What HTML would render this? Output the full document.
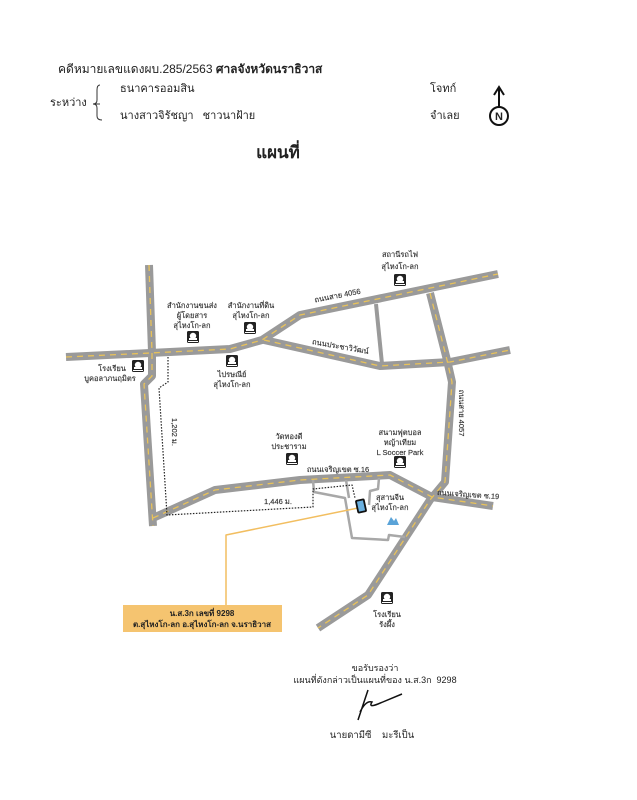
<!DOCTYPE html>
<html><head><meta charset="utf-8">
<style>
html,body{margin:0;padding:0;background:#fff;}
svg{display:block;}
text{font-family:"Liberation Sans","Noto Sans CJK SC",sans-serif;fill:#222;}
.lb{font-size:7.5px;fill:#333;text-anchor:middle;stroke:#333;stroke-width:0.15;}
</style></head><body>
<svg width="637" height="800" viewBox="0 0 637 800" xmlns="http://www.w3.org/2000/svg">
<defs>
<g id="ic"><rect x="-6" y="-6" width="12" height="12" rx="1.5" fill="#222"/><circle cx="0" cy="-1" r="3.2" fill="#fff"/><rect x="-4" y="1" width="8" height="2" fill="#fff"/><rect x="-5" y="4" width="10" height="1" fill="#fff"/></g>
</defs>
<!-- header -->
<text x="58" y="73" font-size="12">คดีหมายเลขแดงผบ.285/2563 <tspan font-weight="bold">ศาลจังหวัดนราธิวาส</tspan></text>
<text x="120" y="92" font-size="11">ธนาคารออมสิน</text>
<text x="50" y="106" font-size="11">ระหว่าง</text>
<path d="M100 104 H93 M100 85 Q97 85 97 90 V100 Q97 104 93 104 Q97 104 97 108 V116 Q97 120 102 120" stroke="#333" fill="none" stroke-width="1"/>
<text x="120" y="119" font-size="11">นางสาวจิรัชญา&#160;&#160;&#160;ชาวนาฝ้าย</text>
<text x="430" y="92" font-size="11">โจทก์</text>
<text x="430" y="119" font-size="11">จำเลย</text>
<line x1="499" y1="108" x2="499" y2="88" stroke="#111" stroke-width="2"/>
<path d="M494 95 L499 87 L504 95" stroke="#111" fill="none" stroke-width="2"/>
<circle cx="499" cy="116" r="9" fill="#fff" stroke="#111" stroke-width="2"/>
<text x="499" y="120" font-size="11" font-weight="bold" text-anchor="middle" fill="#111">N</text>
<text x="278" y="158" font-size="17" font-weight="bold" text-anchor="middle">แผนที่</text>

<!-- roads -->
<g fill="none" stroke-linejoin="round" stroke-linecap="butt">
<g stroke="#9a9a9a" stroke-width="8">
<path id="r1" d="M66 357 L150 353 L230 349 L262 340 L300 315 L498 274"/>
<path id="r2" d="M264 340 L380 366 L450 362 L510 350"/>
<path id="r3" d="M149 265 L152 352 L152 376 L144 384 L153 526"/>
<path id="r4" d="M430 293 L447 360 L452 382 L445 482 L430 500 L368 595 L318 628"/>
<path id="r5" d="M153 518 L215 490 L300 480 L390 475 L432 497 L493 506"/>
<path d="M376 304 L382 364" stroke-width="4"/>
</g>
<g stroke="#e8c25a" stroke-width="1.3" stroke-dasharray="6 5">
<use href="#r1"/><use href="#r2"/><use href="#r3"/><use href="#r4"/><use href="#r5"/>
</g>
<g stroke="#a8a8a8" stroke-width="2.5">
<path d="M313 480 L314 492 L345 498 L352 538 L388 540 L389 535 L405 537"/>
<path d="M346 480 L349 498"/>
<path d="M379 478 L378 489 L370 491 L369 505"/>
</g>
<path d="M168 357 L168 382 L159 388 L167 515 L313 507 L313 489 L352 485 L355 498" stroke="#222" stroke-width="1.2" stroke-dasharray="1.5 1.5"/>
<path d="M358 508 L226 535 L226 606" stroke="#f2be60" stroke-width="1.5"/>
</g>
<rect x="357" y="500" width="8" height="12" rx="1" transform="rotate(-12 361 506)" fill="#6ab0e0" stroke="#111" stroke-width="1.8"/>
<path d="M387 525 l4 -8 l3 4 l2 -3 l3 7 z" fill="#5aa3d8"/>

<use href="#ic" x="400" y="280"/>
<use href="#ic" x="193" y="337"/>
<use href="#ic" x="250" y="328"/>
<use href="#ic" x="138" y="366"/>
<use href="#ic" x="232" y="361"/>
<use href="#ic" x="292" y="459"/>
<use href="#ic" x="400" y="462"/>
<use href="#ic" x="387" y="598"/>

<text class="lb" x="400" y="257">สถานีรถไฟ</text>
<text class="lb" x="400" y="269">สุไหงโก-ลก</text>
<text class="lb" x="192" y="308">สำนักงานขนส่ง</text>
<text class="lb" x="192" y="318">ผู้โดยสาร</text>
<text class="lb" x="192" y="328">สุไหงโก-ลก</text>
<text class="lb" x="251" y="308">สำนักงานที่ดิน</text>
<text class="lb" x="251" y="318">สุไหงโก-ลก</text>
<text class="lb" x="112" y="371">โรงเรียน</text>
<text class="lb" x="110" y="381">บูคอลาภนฤมิตร</text>
<text class="lb" x="232" y="377">ไปรษณีย์</text>
<text class="lb" x="232" y="387">สุไหงโก-ลก</text>
<text class="lb" x="289" y="439">วัดทองดี</text>
<text class="lb" x="289" y="449">ประชาราม</text>
<text class="lb" x="400" y="435">สนามฟุตบอล</text>
<text class="lb" x="400" y="445">หญ้าเทียม</text>
<text class="lb" x="400" y="455">L Soccer Park</text>
<text class="lb" x="390" y="500">สุสานจีน</text>
<text class="lb" x="390" y="510">สุไหงโก-ลก</text>
<text class="lb" x="387" y="617">โรงเรียน</text>
<text class="lb" x="387" y="627">รังผึ้ง</text>
<text class="lb" x="338" y="298" transform="rotate(-11 338 298)">ถนนสาย 4056</text>
<text class="lb" x="340" y="349" transform="rotate(10 340 349)">ถนนประชาวิวัฒน์</text>
<text class="lb" x="338" y="472">ถนนเจริญเขต ซ.16</text>
<text class="lb" x="468" y="497" transform="rotate(4 468 497)">ถนนเจริญเขต ซ.19</text>
<text class="lb" x="459" y="413" transform="rotate(90 459 413)">ถนนสาย 4057</text>
<text class="lb" x="172" y="432" transform="rotate(90 172 432)">1,202 ม.</text>
<text class="lb" x="278" y="504">1,446 ม.</text>

<rect x="123" y="605" width="159" height="27" fill="#f5c470"/>
<text x="202" y="616" font-size="8" text-anchor="middle" font-weight="bold" fill="#333">น.ส.3ก เลขที่ 9298</text>
<text x="202" y="627" font-size="8" text-anchor="middle" font-weight="bold" fill="#333">ต.สุไหงโก-ลก อ.สุไหงโก-ลก จ.นราธิวาส</text>

<text x="375" y="671" font-size="9" text-anchor="middle">ขอรับรองว่า</text>
<text x="375" y="683" font-size="9" text-anchor="middle">แผนที่ดังกล่าวเป็นแผนที่ของ น.ส.3ก&#160;&#160;9298</text>
<path d="M358 720 L368 690 M360 712 Q366 700 372 702 Q368 708 378 704 L402 694" stroke="#111" stroke-width="1.5" fill="none"/>
<text x="372" y="738" font-size="9.5" text-anchor="middle">นายดามีซี&#160;&#160;&#160;&#160;มะรีเป็น</text>
</svg>
</body></html>
